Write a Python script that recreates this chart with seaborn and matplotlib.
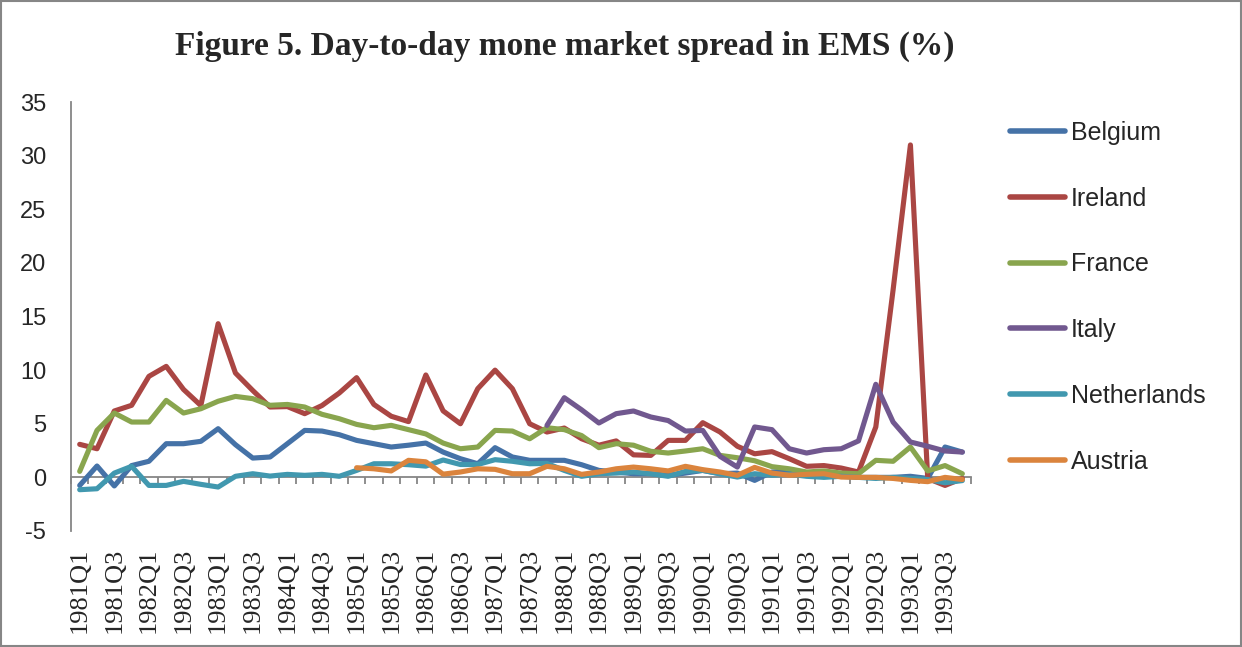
import numpy as np
import pandas as pd
import matplotlib
matplotlib.use("Agg")
import matplotlib.pyplot as plt
from matplotlib.patches import Rectangle
import seaborn as sns

# quarters 1981Q1 .. 1993Q4
quarters = [f"{y}Q{q}" for y in range(1981, 1994) for q in range(1, 5)]

belgium = [-0.75, 1.06, -0.8, 1.1, 1.5, 3.14, 3.14, 3.36, 4.54, 3.05, 1.8, 1.9, 3.14,
           4.38, 4.32, 3.98, 3.45, 3.14, 2.83, 3.0, 3.2, 2.36, 1.74, 1.27, 2.77, 1.9,
           1.59, 1.59, 1.59, 1.18, 0.65, 0.5, 0.34, 0.34, 0.19, 0.4, 0.65, 0.34, 0.4,
           -0.28, 0.5, 0.6, 0.4, 0.3, 0.2, 0.0, 0.0, 0.0, 0.1, -0.1, 2.83, 2.36]
ireland = [3.08, 2.67, 6.19, 6.72, 9.42, 10.35, 8.2, 6.7, 14.33, 9.73, 8.1, 6.56, 6.6,
           5.94, 6.7, 7.87, 9.3, 6.8, 5.7, 5.2, 9.55, 6.2, 5.0, 8.27, 10.0, 8.27, 5.0,
           4.23, 4.6, 3.6, 3.0, 3.4, 2.1, 2.05, 3.45, 3.45, 5.1, 4.23, 2.9, 2.2, 2.4,
           1.74, 1.03, 1.1, 0.87, 0.5, 4.7, 17.5, 31.0, -0.1, -0.75, -0.1]
france = [0.56, 4.38, 6.0, 5.16, 5.16, 7.18, 6.0, 6.4, 7.1, 7.55, 7.34, 6.72, 6.8,
          6.56, 5.88, 5.47, 4.94, 4.63, 4.85, 4.45, 4.05, 3.2, 2.67, 2.83, 4.38, 4.32,
          3.6, 4.63, 4.45, 3.9, 2.77, 3.14, 3.0, 2.43, 2.27, 2.46, 2.67, 2.05, 1.83,
          1.55, 1.0, 0.8, 0.5, 0.6, 0.4, 0.34, 1.59, 1.5, 2.83, 0.6, 1.1, 0.34]
italy = [np.nan] * 27 + [4.85, 7.43, 6.3, 5.07, 5.94, 6.19, 5.63, 5.3, 4.32, 4.38,
                         1.96, 0.96, 4.7, 4.45, 2.67, 2.27, 2.58, 2.67, 3.4, 8.68,
                         5.16, 3.3, 2.9, 2.46, 2.36]
netherlands = [-1.15, -1.06, 0.4, 1.03, -0.75, -0.75, -0.37, -0.65, -0.9, 0.1, 0.34,
               0.12, 0.28, 0.19, 0.28, 0.1, 0.65, 1.27, 1.27, 1.18, 1.05, 1.62, 1.2,
               1.2, 1.65, 1.5, 1.27, 1.3, 0.65, 0.1, 0.34, 0.4, 0.5, 0.34, 0.1, 0.56,
               0.65, 0.34, 0.03, 0.34, 0.2, 0.3, 0.1, 0.0, 0.1, 0.0, -0.1, 0.0, -0.1,
               -0.2, -0.5, -0.3]
austria = [np.nan] * 16 + [0.9, 0.8, 0.6, 1.59, 1.45, 0.3, 0.5, 0.8, 0.75, 0.34, 0.34,
                           1.03, 0.8, 0.28, 0.5, 0.8, 0.96, 0.8, 0.6, 1.03, 0.72, 0.5,
                           0.19, 0.93, 0.4, 0.2, 0.28, 0.34, 0.03, 0.0, 0.0, -0.1,
                           -0.28, -0.4, 0.0, -0.2]

countries = ["Belgium", "Ireland", "France", "Italy", "Netherlands", "Austria"]
colors = ["#4572A7", "#AA4643", "#89A54E", "#71588F", "#4198AF", "#DB843D"]

series = dict(zip(countries, [belgium, ireland, france, italy, netherlands, austria]))
df = pd.DataFrame(series)
df["idx"] = np.arange(len(quarters))
long_df = df.melt(id_vars="idx", var_name="country", value_name="spread").dropna()

sns.set_style("white")
plt.rcParams["axes.unicode_minus"] = False

fig = plt.figure(figsize=(12.42, 6.47), dpi=100)
ax = fig.add_axes([0.0572, 0.1793, 0.7246, 0.6630])

sns.lineplot(data=long_df, x="idx", y="spread", hue="country", hue_order=countries,
             palette=colors, linewidth=3.7, ax=ax, solid_joinstyle="round",
             solid_capstyle="round", legend=True)

ax.set_xlim(-0.5, len(quarters) - 0.5)
ax.set_ylim(-5, 35)
ax.set_yticks(range(-5, 36, 5))
ax.set_xlabel("")
ax.set_ylabel("")

grey = "#868686"
for s in ["top", "right", "bottom"]:
    ax.spines[s].set_visible(False)
ax.spines["left"].set_color(grey)
ax.spines["left"].set_linewidth(1.3)

ax.set_xticks(np.arange(0, len(quarters), 2))
ax.set_xticklabels(quarters[::2], rotation=90, fontfamily="Liberation Serif", fontsize=19)
ax.tick_params(axis="x", length=0, pad=12)
ax.tick_params(axis="y", direction="out", length=5, width=1.3, color=grey,
               labelsize=17, pad=13)
for lab in ax.get_yticklabels():
    lab.set_fontfamily("Liberation Sans")

# category axis drawn at y = 0
sec = ax.secondary_xaxis(5 / 40)
sec.set_xticks(np.arange(-0.5, len(quarters), 1))
sec.tick_params(axis="x", direction="out", length=5, width=1.3, color=grey, labelbottom=False)
sec.spines["bottom"].set_color(grey)
sec.spines["bottom"].set_linewidth(1.3)

handles, labels = ax.get_legend_handles_labels()
for h in handles:
    h.set_linewidth(4)
ax.legend_.remove()
fig.legend(handles, labels, loc="upper left", bbox_to_anchor=(0.795, 0.848),
           frameon=False, prop={"family": "Liberation Sans", "size": 18},
           handlelength=2.2, handletextpad=0.25, labelspacing=1.67)

fig.text(0.455, 0.928, "Figure 5. Day-to-day mone market spread in EMS (%)",
         ha="center", va="center", fontsize=24, fontweight="bold",
         fontfamily="Liberation Serif")

fig.patches.append(Rectangle((0.001, 0.001), 0.998, 0.997, transform=fig.transFigure,
                             fill=False, edgecolor=grey, linewidth=1.5))

fig.savefig("out.png", dpi=100)
